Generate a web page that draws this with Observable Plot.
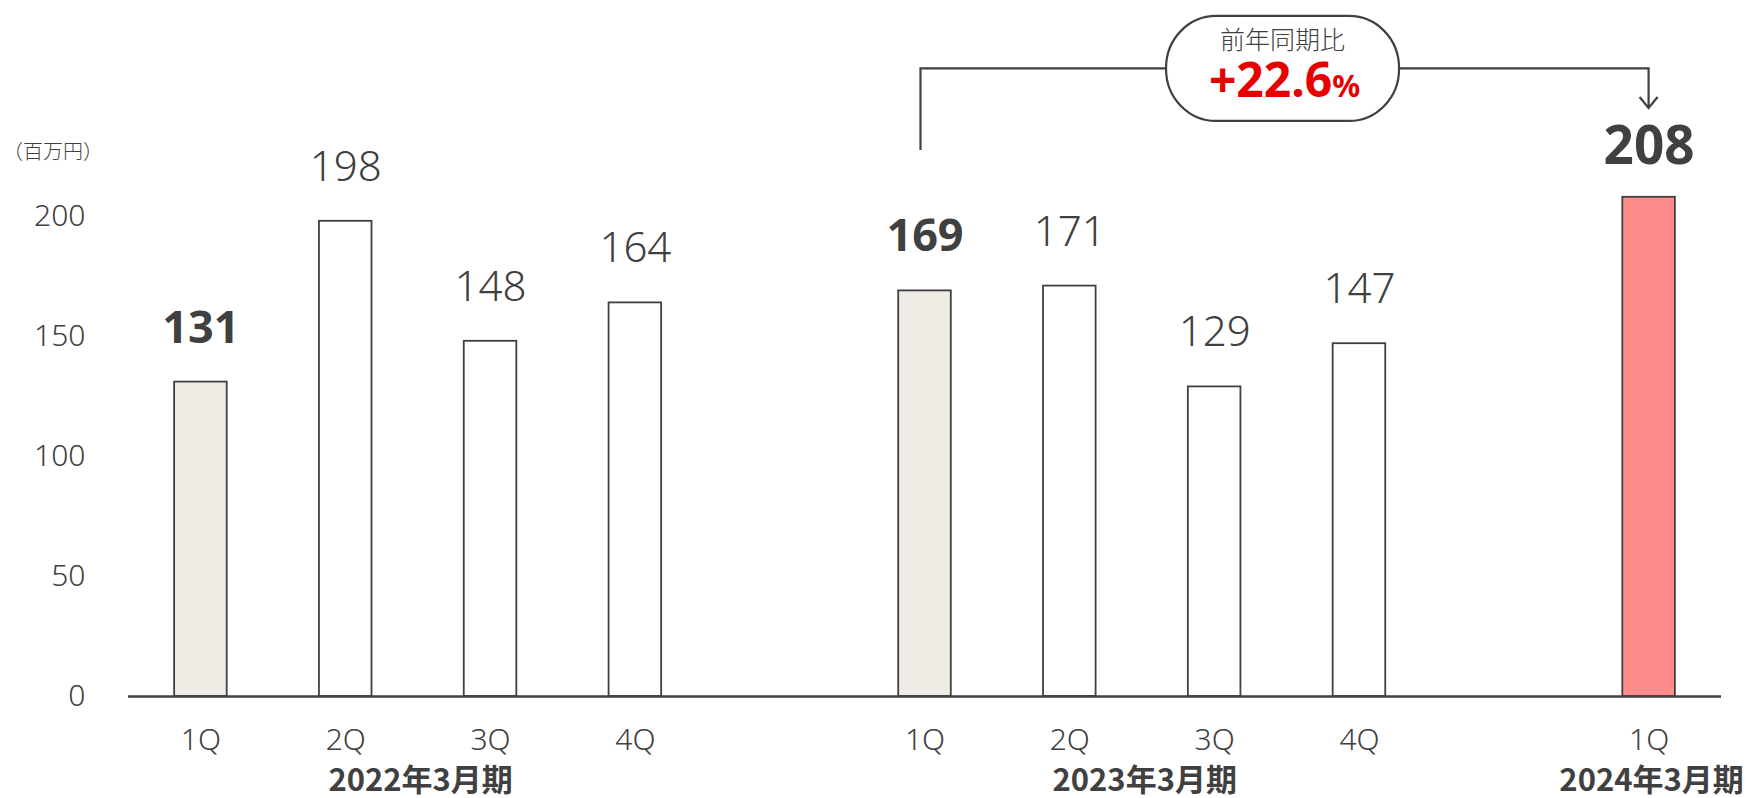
<!DOCTYPE html>
<html>
<head>
<meta charset="utf-8">
<script src="https://cdn.jsdelivr.net/npm/d3@7"></script>
<script src="https://cdn.jsdelivr.net/npm/@observablehq/plot@0.6"></script>
<style>
  html, body { margin: 0; padding: 0; background: #fff; }
  #chart svg { display: block; }
</style>
</head>
<body>
<div id="chart"></div>
<script>
// ---- data ----
const fiscalYears = ["2022年3月期", "2023年3月期", "2024年3月期"];
const quarters = ["1Q", "2Q", "3Q", "4Q"];
const sales2022 = [131, 198, 148, 164];
const sales2023 = [169, 171, 129, 147];
const sales2024 = [208];
const yTicks = [0, 50, 100, 150, 200];
const unitLabel = "（百万円）";
const yoyTitle = "前年同期比";
const yoyValue = "+22.6";
const yoyUnit = "%";

// ---- build table ----
const seriesByYear = [sales2022, sales2023, sales2024];
const rows = [];
const xDomain = [];
seriesByYear.forEach((vals, yi) => {
  if (yi > 0) xDomain.push("gap" + yi);
  vals.forEach((v, qi) => {
    const key = fiscalYears[yi] + "|" + quarters[qi];
    xDomain.push(key);
    rows.push({key, year: fiscalYears[yi], yi, q: quarters[qi], qi, value: v});
  });
});
const lastYi = seriesByYear.length - 1;
const fillOf = d => d.yi === lastYi ? "#FF8B8B" : (d.qi === 0 ? "#EFECE5" : "#FFFFFF");
const ink = "#404040";
const numFam = "'Noto Sans', 'Noto Sans CJK JP', sans-serif";
const cjkFam = "'Noto Sans CJK JP', 'Noto Sans', sans-serif";

const chart = Plot.plot({
  width: 1752,
  height: 798,
  marginLeft: 128,
  marginRight: 31,
  marginTop: 24,
  marginBottom: 102,
  style: {
    fontFamily: numFam,
    fontSize: "30px",
    fontWeight: 300,
    color: ink,
    background: "#fff",
    overflow: "visible"
  },
  x: {
    domain: xDomain,
    paddingInner: 0.637,
    paddingOuter: 0.3185,
    round: false,
    tickSize: 0,
    tickPadding: 32,
    tickFormat: k => k.startsWith("gap") ? "" : k.split("|")[1],
    label: null
  },
  y: {
    domain: [0, 280],
    ticks: yTicks,
    tickSize: 0,
    tickPadding: 43,
    label: null
  },
  color: {type: "identity"},
  marks: [
    Plot.barY(rows, {x: "key", y: "value", fill: fillOf, stroke: ink, strokeWidth: 1.8}),
    Plot.ruleY([0], {stroke: ink, strokeWidth: 2.5}),
    Plot.text(rows.filter(d => d.yi !== lastYi && d.qi !== 0), {
      x: "key", y: "value", text: d => String(d.value), dy: -54,
      fontSize: 42, fontWeight: 300, fill: ink
    }),
    Plot.text(rows.filter(d => d.yi !== lastYi && d.qi === 0), {
      x: "key", y: "value", text: d => String(d.value), dy: -54,
      fontSize: 45, fontWeight: "bold", fill: ink
    }),
    Plot.text(rows.filter(d => d.yi === lastYi), {
      x: "key", y: "value", text: d => String(d.value), dy: -50,
      fontSize: 53, fontWeight: "bold", fill: ink
    })
  ]
});

document.getElementById("chart").appendChild(chart);

// ---- annotations positioned from the plot's scales ----
const xs = chart.scale("x");
const ys = chart.scale("y");
const cx = k => xs.apply(k) + xs.bandwidth / 2;
const svg = d3.select(chart);

// unit label
svg.append("text")
  .attr("x", 3).attr("y", 159)
  .attr("text-anchor", "start")
  .attr("font-family", cjkFam).attr("font-size", 20).attr("font-weight", 300)
  .attr("fill", ink)
  .text(unitLabel);

// fiscal year labels
fiscalYears.forEach((fy, yi) => {
  const keys = rows.filter(d => d.yi === yi).map(d => d.key);
  const c = (cx(keys[0]) + cx(keys[keys.length - 1])) / 2 + 3;
  svg.append("text")
    .attr("x", c).attr("y", 791)
    .attr("text-anchor", "middle")
    .attr("font-family", cjkFam).attr("font-size", 31).attr("font-weight", "bold")
    .attr("fill", ink)
    .text(fy);
});

// YoY bracket
const prevKey = fiscalYears[lastYi - 1] + "|" + quarters[0];
const curKey = fiscalYears[lastYi] + "|" + quarters[0];
const xL = cx(prevKey) - 4;
const xR = cx(curKey);
const yLine = ys.apply(261.5);
const yLow = ys.apply(227.5);
const yTip = ys.apply(245);
const g = svg.append("g").attr("fill", "none").attr("stroke", ink).attr("stroke-width", 2.2);
g.append("path").attr("d", `M${xL},${yLow}V${yLine}H${xR}V${yTip}`);
g.append("path").attr("d", `M${xR - 9},${yTip - 11}L${xR},${yTip}L${xR + 9},${yTip - 11}`);

const pw = 233, ph = 105;
const pcx = (xL + xR) / 2 - 2;
const pcy = yLine;
svg.append("rect")
  .attr("x", pcx - pw / 2).attr("y", pcy - ph / 2)
  .attr("width", pw).attr("height", ph)
  .attr("rx", 50).attr("ry", 52)
  .attr("fill", "#fff").attr("stroke", ink).attr("stroke-width", 2.2);
svg.append("text")
  .attr("x", pcx).attr("y", pcy - 19)
  .attr("text-anchor", "middle")
  .attr("font-family", cjkFam).attr("font-size", 25).attr("font-weight", 300)
  .attr("fill", ink)
  .text(yoyTitle);
const t = svg.append("text")
  .attr("x", pcx + 2).attr("y", pcy + 29)
  .attr("text-anchor", "middle")
  .attr("font-family", numFam).attr("font-weight", "bold")
  .attr("fill", "#E60000");
t.append("tspan").attr("font-size", 48).text(yoyValue);
t.append("tspan").attr("font-size", 31).text(yoyUnit);
</script>
</body>
</html>
